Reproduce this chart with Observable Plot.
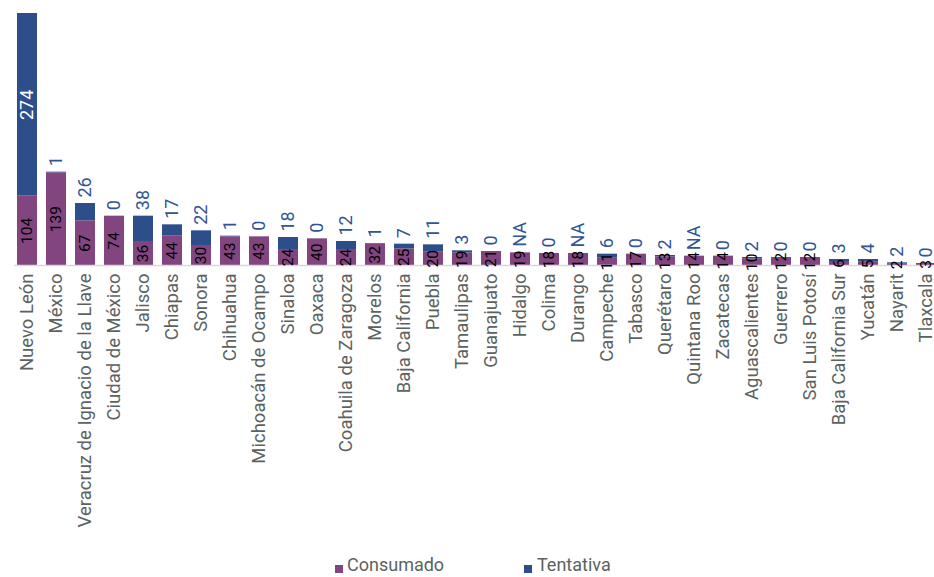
<!DOCTYPE html>
<html>
<head>
<meta charset="utf-8">
<script src="https://cdn.jsdelivr.net/npm/d3@7"></script>
<script src="https://cdn.jsdelivr.net/npm/@observablehq/plot@0.6"></script>
<style>
  html, body { margin: 0; padding: 0; background: #fff; overflow: hidden; }
  body { font-family: Roboto, "DejaVu Sans Condensed", sans-serif; }
  #legend { position: relative; height: 22px; width: 934px; color: #5b6361; font-size: 18px; line-height: 14px; }
  #legend .sw { position: absolute; top: 10px; width: 8px; height: 8px; }
  #legend .lb { position: absolute; top: 3px; height: 14px; white-space: nowrap; }
</style>
</head>
<body>
<div id="chart"></div>
<div id="legend"></div>
<script>
const states = ["Nuevo León","México","Veracruz de Ignacio de la Llave","Ciudad de México","Jalisco","Chiapas","Sonora","Chihuahua","Michoacán de Ocampo","Sinaloa","Oaxaca","Coahuila de Zaragoza","Morelos","Baja California","Puebla","Tamaulipas","Guanajuato","Hidalgo","Colima","Durango","Campeche","Tabasco","Querétaro","Quintana Roo","Zacatecas","Aguascalientes","Guerrero","San Luis Potosí","Baja California Sur","Yucatán","Nayarit","Tlaxcala"];
const consumado = [104,139,67,74,36,44,30,43,43,24,40,24,32,25,20,19,21,19,18,18,11,17,13,14,14,10,12,12,6,5,2,3];
const tentativa = [274,1,26,0,38,17,22,1,0,18,0,12,1,7,11,3,0,null,0,null,6,0,2,null,0,2,0,0,3,4,2,0];
const series = ["Consumado","Tentativa"];
const colors = ["#82457f","#2c4f8c"];

const rows = [];
states.forEach((s, i) => {
  rows.push({state: s, tipo: "Consumado", value: consumado[i]});
  if (tentativa[i] != null) rows.push({state: s, tipo: "Tentativa", value: tentativa[i]});
});
const pts = states.map((s, i) => ({state: s, c: consumado[i], t: tentativa[i]}));
const inside = pts.filter(d => d.t != null && d.t > 100);
const above = pts.filter(d => !(d.t != null && d.t > 100));

const chart = Plot.plot({
  width: 934,
  height: 555,
  marginTop: 13,
  marginBottom: 290,
  marginLeft: 14,
  marginRight: -4,
  style: {fontFamily: 'Roboto, "DejaVu Sans Condensed", sans-serif', fontSize: "18.5px", color: "#5b6361", background: "#fff"},
  x: {domain: states, paddingInner: 0.314, paddingOuter: 0, tickRotate: -90, tickSize: 0, tickPadding: 8, label: null},
  y: {domain: [0, 378], axis: null},
  color: {domain: series, range: colors},
  marks: [
    Plot.barY(rows, {x: "state", y: "value", fill: "tipo"}),
    Plot.ruleY([0], {stroke: "#d9d9d9", strokeWidth: 1.5}),
    Plot.text(pts, {x: "state", y: d => d.c / 2, text: d => String(d.c), rotate: -90, fill: "#000", fontSize: 15.5}),
    Plot.text(inside, {x: "state", y: d => d.c + d.t / 2, text: d => String(d.t), rotate: -90, fill: "#fff", fontSize: 18}),
    Plot.text(above, {x: "state", y: d => d.c + (d.t ?? 0), text: d => d.t == null ? "NA" : String(d.t), rotate: -90, textAnchor: "start", dy: -6, fill: "#2f5597", fontSize: 18})
  ]
});
document.getElementById("chart").appendChild(chart);

const legend = document.getElementById("legend");
const pos = [[335, 347], [524, 537]];
series.forEach((s, i) => {
  const sw = document.createElement("span");
  sw.className = "sw";
  sw.style.left = pos[i][0] + "px";
  sw.style.background = colors[i];
  const lb = document.createElement("span");
  lb.className = "lb";
  lb.style.left = pos[i][1] + "px";
  lb.textContent = s;
  legend.appendChild(sw);
  legend.appendChild(lb);
});
</script>
</body>
</html>
